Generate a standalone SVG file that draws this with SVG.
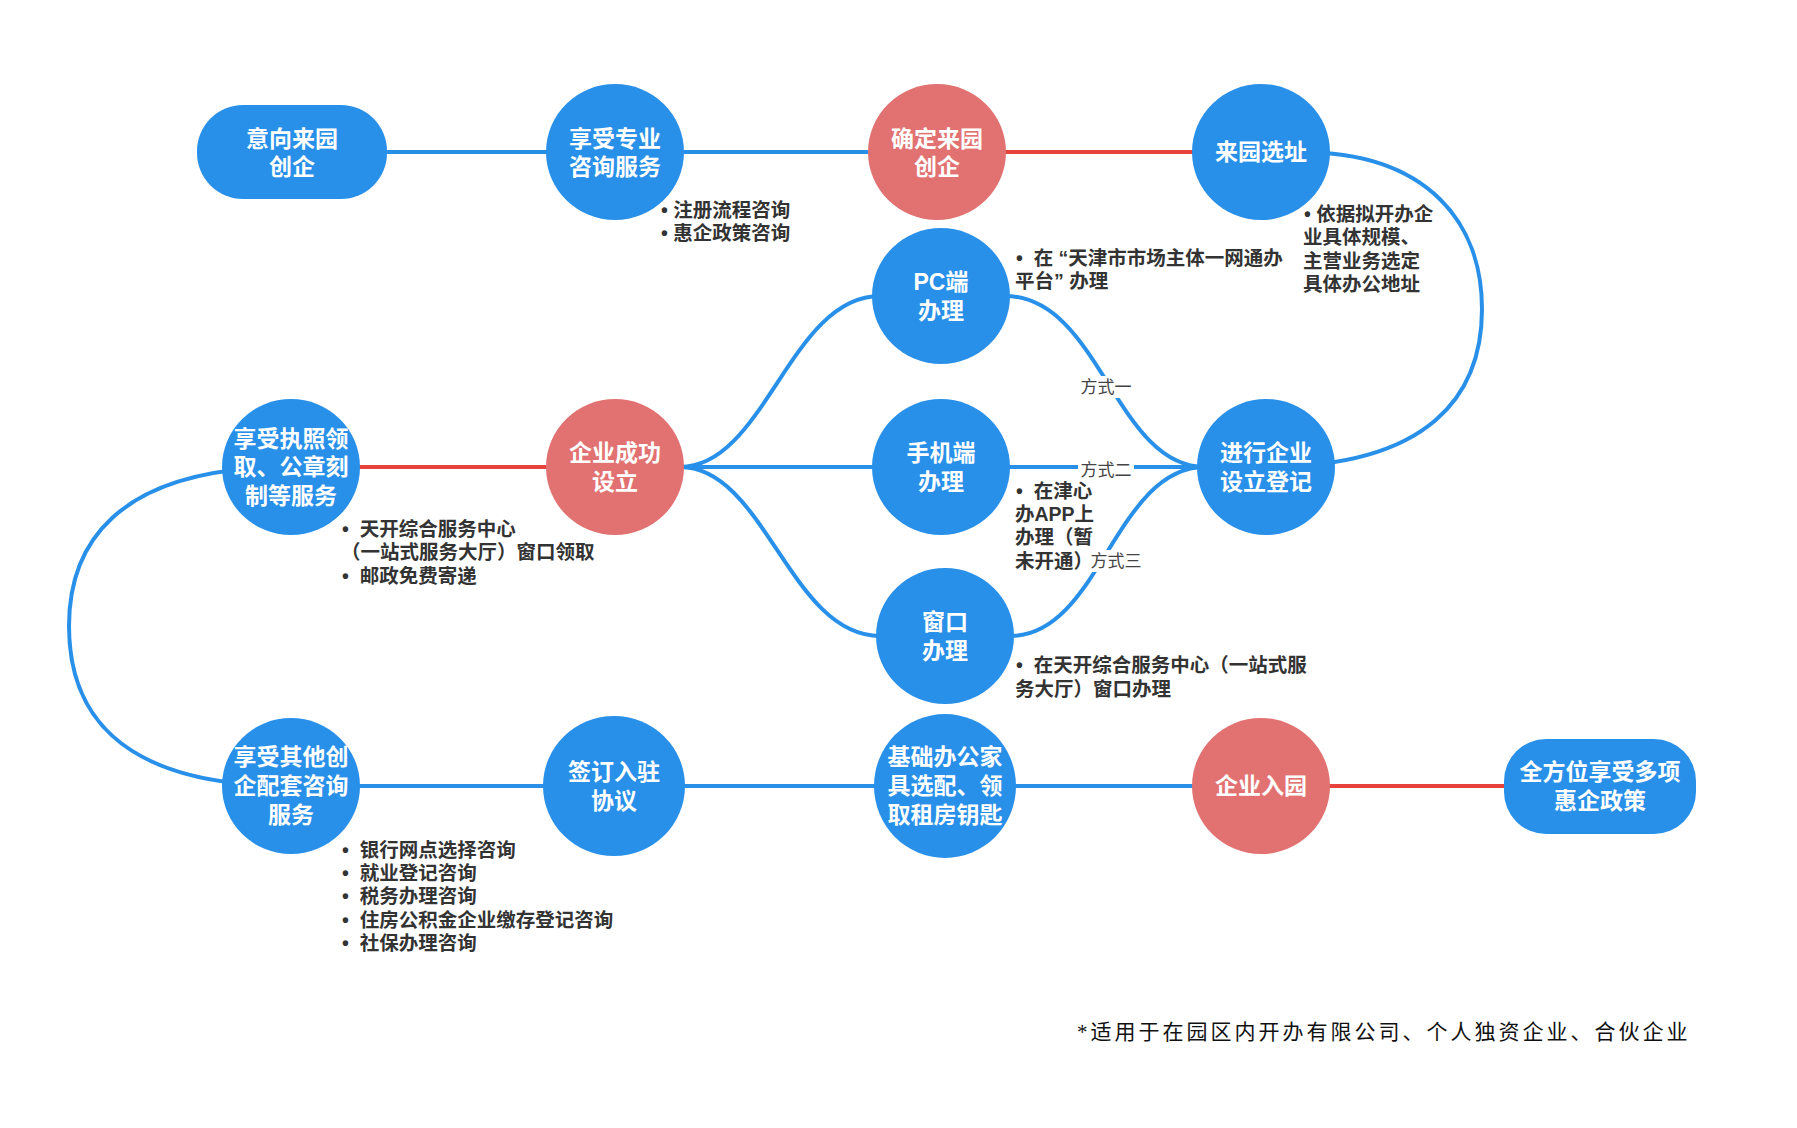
<svg xmlns="http://www.w3.org/2000/svg" width="1797" height="1128" viewBox="0 0 1797 1128">
<style>
.blue{fill:#2990EA}
.red{fill:#E27272}
.nt{font-family:"Liberation Sans","Noto Sans CJK SC",sans-serif;font-weight:700;font-size:23px;fill:#fff;text-anchor:middle;dominant-baseline:central}
.bt{font-family:"Liberation Sans","Noto Sans CJK SC",sans-serif;font-weight:700;font-size:19.5px;fill:#333}
.lb{font-family:"Liberation Sans","Noto Sans CJK SC",sans-serif;font-size:17px;fill:#444;text-anchor:middle;dominant-baseline:central}
.cb{fill:none;stroke:#2990EA;stroke-width:4}
.cr{fill:none;stroke:#E5433B;stroke-width:4}
.ft{font-family:"Liberation Serif","Noto Sans CJK SC",serif;font-size:21px;fill:#111;letter-spacing:3px}
</style>
<rect width="1797" height="1128" fill="#fff"/>
<g id="connectors">
<line class="cb" x1="292" y1="152" x2="615" y2="152"/>
<line class="cb" x1="615" y1="152" x2="937" y2="152"/>
<line class="cr" x1="937" y1="152" x2="1261" y2="152"/>
<path class="cb" d="M1300,152 C1430,152 1482,225 1482,309 C1482,395 1430,467 1266,467"/>
<path class="cb" d="M680,467 C765,467 790,296 880,296"/>
<line class="cb" x1="615" y1="467" x2="941" y2="467"/>
<path class="cb" d="M680,467 C765,467 790,636 880,636"/>
<path class="cb" d="M1005,296 C1100,296 1115,467 1205,467"/>
<line class="cb" x1="941" y1="467" x2="1266" y2="467"/>
<path class="cb" d="M1010,636 C1100,636 1115,467 1205,467"/>
<line class="cr" x1="291" y1="467" x2="615" y2="467"/>
<path class="cb" d="M291,467 C110,467 69,550 69,626 C69,705 110,786 291,786"/>
<line class="cb" x1="291" y1="786" x2="945" y2="786"/>
<line class="cr" x1="1261" y1="786" x2="1600" y2="786"/>
<line class="cb" x1="945" y1="786" x2="1261" y2="786"/>
</g>
<g id="n1"><rect class="blue" x="197" y="105" width="190" height="94" rx="46"/><text class="nt" x="292"><tspan x="292" y="139">意向来园</tspan><tspan x="292" y="167">创企</tspan></text></g>
<g id="n2"><ellipse class="blue" cx="615" cy="152" rx="69" ry="68"/><text class="nt"><tspan x="615" y="139">享受专业</tspan><tspan x="615" y="167">咨询服务</tspan></text></g>
<g id="n3"><ellipse class="red" cx="937" cy="152" rx="69" ry="68"/><text class="nt"><tspan x="937" y="139">确定来园</tspan><tspan x="937" y="167">创企</tspan></text></g>
<g id="n4"><ellipse class="blue" cx="1261" cy="152" rx="69" ry="68"/><text class="nt" x="1261" y="152">来园选址</text></g>
<g id="n5"><ellipse class="blue" cx="941" cy="296" rx="69" ry="68"/><text class="nt"><tspan x="941" y="282">PC端</tspan><tspan x="941" y="311">办理</tspan></text></g>
<g id="n6"><ellipse class="blue" cx="941" cy="467" rx="69" ry="68"/><text class="nt"><tspan x="941" y="453">手机端</tspan><tspan x="941" y="482">办理</tspan></text></g>
<g id="n7"><ellipse class="blue" cx="945" cy="636" rx="69" ry="68"/><text class="nt"><tspan x="945" y="622">窗口</tspan><tspan x="945" y="651">办理</tspan></text></g>
<g id="n8"><ellipse class="blue" cx="1266" cy="467" rx="69" ry="68"/><text class="nt"><tspan x="1266" y="453">进行企业</tspan><tspan x="1266" y="482">设立登记</tspan></text></g>
<g id="n9"><ellipse class="red" cx="615" cy="467" rx="69" ry="68"/><text class="nt"><tspan x="615" y="453">企业成功</tspan><tspan x="615" y="482">设立</tspan></text></g>
<g id="n10"><ellipse class="blue" cx="291" cy="467" rx="69" ry="68"/><text class="nt"><tspan x="291" y="439">享受执照领</tspan><tspan x="291" y="467">取、公章刻</tspan><tspan x="291" y="496">制等服务</tspan></text></g>
<g id="n11"><ellipse class="blue" cx="291" cy="786" rx="69" ry="68"/><text class="nt"><tspan x="291" y="757">享受其他创</tspan><tspan x="291" y="786">企配套咨询</tspan><tspan x="291" y="815">服务</tspan></text></g>
<g id="n12"><ellipse class="blue" cx="614" cy="786" rx="71" ry="70"/><text class="nt"><tspan x="614" y="772">签订入驻</tspan><tspan x="614" y="801">协议</tspan></text></g>
<g id="n13"><ellipse class="blue" cx="945" cy="786" rx="71" ry="72"/><text class="nt"><tspan x="945" y="757">基础办公家</tspan><tspan x="945" y="786">具选配、领</tspan><tspan x="945" y="815">取租房钥匙</tspan></text></g>
<g id="n14"><ellipse class="red" cx="1261" cy="786" rx="69" ry="68"/><text class="nt" x="1261" y="786">企业入园</text></g>
<g id="n15"><rect class="blue" x="1504" y="739" width="192" height="95" rx="42"/><text class="nt"><tspan x="1600" y="772">全方位享受多项</tspan><tspan x="1600" y="801">惠企政策</tspan></text></g>
<g id="notes">
<text class="bt"><tspan x="661" y="217">•&#160;注册流程咨询</tspan><tspan x="661" y="240">•&#160;惠企政策咨询</tspan></text>
<text class="bt"><tspan x="1016" y="265">•&#160;&#160;在&#160;“天津市市场主体一网通办</tspan><tspan x="1015" y="288">平台”&#160;办理</tspan></text>
<text class="bt"><tspan x="1304" y="221">•&#160;依据拟开办企</tspan><tspan x="1303" y="244">业具体规模、</tspan><tspan x="1303" y="268">主营业务选定</tspan><tspan x="1303" y="291">具体办公地址</tspan></text>
<text class="bt"><tspan x="1016" y="498">•&#160;&#160;在津心</tspan><tspan x="1015" y="521">办APP上</tspan><tspan x="1015" y="544">办理（暂</tspan><tspan x="1015" y="568">未开通）</tspan></text>
<text class="bt"><tspan x="1016" y="672">•&#160;&#160;在天开综合服务中心（一站式服</tspan><tspan x="1015" y="696">务大厅）窗口办理</tspan></text>
<text class="bt"><tspan x="342" y="536">•&#160;&#160;天开综合服务中心</tspan><tspan x="341" y="559">（一站式服务大厅）窗口领取</tspan><tspan x="342" y="583">•&#160;&#160;邮政免费寄递</tspan></text>
<text class="bt"><tspan x="342" y="857">•&#160;&#160;银行网点选择咨询</tspan><tspan x="342" y="880">•&#160;&#160;就业登记咨询</tspan><tspan x="342" y="903">•&#160;&#160;税务办理咨询</tspan><tspan x="342" y="927">•&#160;&#160;住房公积金企业缴存登记咨询</tspan><tspan x="342" y="950">•&#160;&#160;社保办理咨询</tspan></text>
</g>
<g id="labels">
<rect x="1078" y="376" width="56" height="22" fill="#fff"/><text class="lb" x="1106" y="387">方式一</text>
<rect x="1078" y="459" width="56" height="22" fill="#fff"/><text class="lb" x="1106" y="470">方式二</text>
<rect x="1088" y="550" width="56" height="22" fill="#fff"/><text class="lb" x="1116" y="561">方式三</text>
</g>
<text class="ft" x="1077" y="1039">*适用于在园区内开办有限公司、个人独资企业、合伙企业</text>
</svg>
